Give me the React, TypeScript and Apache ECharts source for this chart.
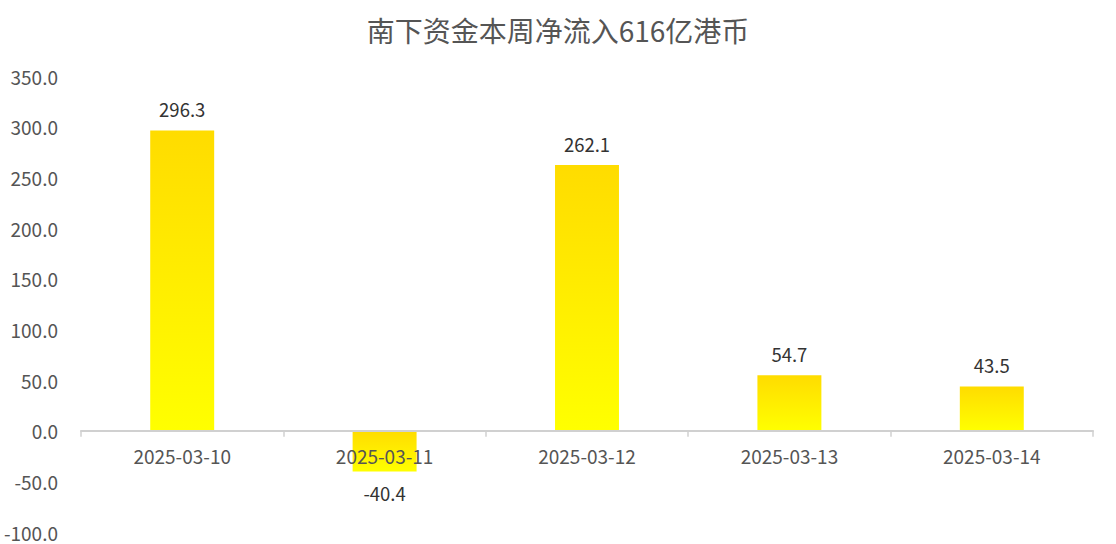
import React, { useEffect, useRef } from "react";
import * as echarts from "echarts";

const titleText = "南下资金本周净流入616亿港币";
const categories = ["2025-03-10", "2025-03-11", "2025-03-12", "2025-03-13", "2025-03-14"];
const values = [296.3, -40.4, 262.1, 54.7, 43.5];
const yMin = -100;
const yMax = 350;
const yInterval = 50;

const W = 1116;
const H = 544;
const gridTop = 76;
const gridBottom = 12;

export default function App() {
  const ref = useRef<HTMLDivElement>(null);
  useEffect(() => {
    if (!ref.current) return;
    const chart = echarts.init(ref.current, undefined, { renderer: "svg" });
    const font = "'Noto Sans CJK SC', 'Noto Sans', sans-serif";
    const gridH = H - gridTop - gridBottom;
    const zeroOffset = -((0 - yMin) / (yMax - yMin)) * gridH;
    chart.setOption({
      animation: false,
      backgroundColor: "#fff",
      title: {
        text: titleText,
        left: "center",
        top: 11,
        textStyle: { fontSize: 28, fontWeight: "normal", color: "#555", fontFamily: font },
      },
      grid: { left: 81, right: 23, top: gridTop, bottom: gridBottom, containLabel: false },
      xAxis: {
        type: "category",
        data: categories,
        z: 5,
        offset: zeroOffset,
        axisLine: { onZero: false, lineStyle: { color: "#d0d0d0", width: 2 } },
        axisTick: { show: true, length: 6, lineStyle: { color: "#d0d0d0", width: 1.5 } },
        axisLabel: { fontSize: 19, color: "#555", margin: 15, fontFamily: font },
      },
      yAxis: {
        type: "value",
        min: yMin,
        max: yMax,
        interval: yInterval,
        axisLine: { show: false },
        axisTick: { show: false },
        splitLine: { show: false },
        axisLabel: {
          fontSize: 19,
          color: "#555",
          margin: 23,
          fontFamily: font,
          formatter: (v: number) => v.toFixed(1),
        },
      },
      series: [
        {
          type: "bar",
          barWidth: "31.6%",
          data: values.map((v) => ({
            value: v,
            label: { position: v < 0 ? "bottom" : "top" },
          })),
          itemStyle: {
            color: new echarts.graphic.LinearGradient(0, 0, 0, 1, [
              { offset: 0, color: "#FFDC00" },
              { offset: 1, color: "#FFFF00" },
            ]),
          },
          label: {
            show: true,
            distance: 12,
            fontSize: 18.5,
            color: "#333",
            fontFamily: font,
            formatter: (p: any) => Number(p.value).toFixed(1),
          },
        },
      ],
    });
    return () => chart.dispose();
  }, []);
  return <div ref={ref} style={{ position: "fixed", left: 0, top: 0, width: W, height: H }} />;
}
